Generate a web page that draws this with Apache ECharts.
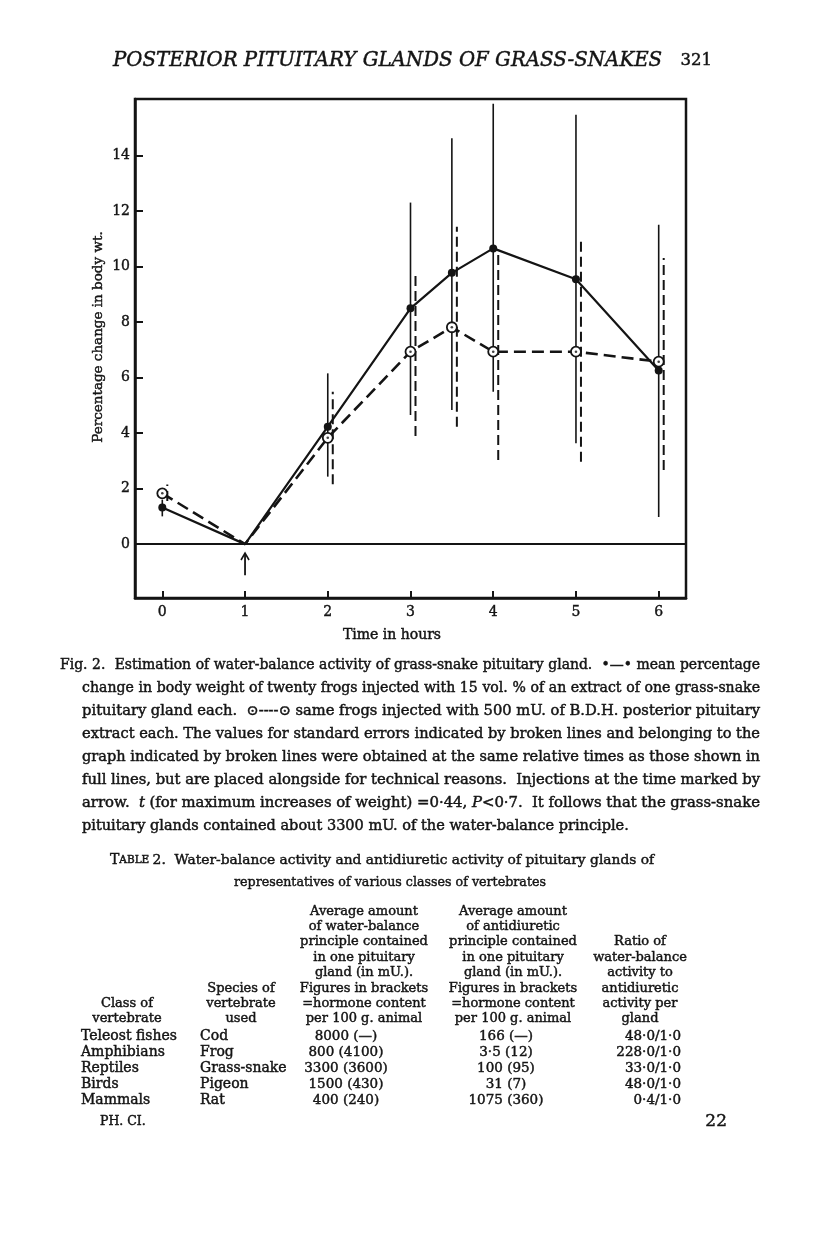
<!DOCTYPE html>
<html><head><meta charset="utf-8">
<script src="https://cdn.jsdelivr.net/npm/echarts@6/dist/echarts.min.js"></script>
<style>html,body{margin:0;padding:0;background:#fff}#c{width:816px;height:1234px}</style>
</head><body><div id="c"></div>
<script>
// ---------- DATA ----------
const hours = [0, 1, 2, 3, 3.5, 4, 5, 6];
const frogExtract = [1.32, 0, 4.23, 8.49, 9.77, 10.65, 9.54, 6.25];   // solid line, filled dots
const bdhPosterior = [1.83, 0, 3.83, 6.93, 7.81, 6.93, 6.93, 6.57];  // broken line, open circles
const errHours = [0, 2, 3, 3.5, 4, 5, 6];
const solidErrLow  = [1.0, 2.43, 4.65, 4.83, 5.49, 3.63, 0.98];
const solidErrHigh = [1.6, 6.15, 12.3, 14.62, 15.86, 15.46, 11.5];
const dashErrLow   = [1.55, 2.16, 3.89, 4.23, 3.03, 2.97, 2.67];
const dashErrHigh  = [2.15, 5.49, 9.81, 11.43, 10.6, 10.95, 10.3];
const injectionHour = 1;
const arrowBottom = -1.12, arrowTop = -0.32;
const xTicks = [0, 1, 2, 3, 4, 5, 6];
const yTicks = [0, 2, 4, 6, 8, 10, 12, 14];

const pageTitle = "POSTERIOR PITUITARY GLANDS OF GRASS-SNAKES";
const pageNumber = "321";
const xName = "Time in hours";
const yName = "Percentage change in body wt.";
const captionLines = [
  "Fig. 2.  Estimation of water-balance activity of grass-snake pituitary gland.  •—• mean percentage",
  "change in body weight of twenty frogs injected with 15 vol. % of an extract of one grass-snake",
  "pituitary gland each.  ⊙----⊙ same frogs injected with 500 mU. of B.D.H. posterior pituitary",
  "extract each. The values for standard errors indicated by broken lines and belonging to the",
  "graph indicated by broken lines were obtained at the same relative times as those shown in",
  "full lines, but are placed alongside for technical reasons.  Injections at the time marked by",
  "arrow.  *t* (for maximum increases of weight) =0·44, *P*<0·7.  It follows that the grass-snake",
  "pituitary glands contained about 3300 mU. of the water-balance principle."
];
const tableTitle1 = "Water-balance activity and antidiuretic activity of pituitary glands of";
const tableTitle2 = "representatives of various classes of vertebrates";
const colHeaders = [
  ["Class of", "vertebrate"],
  ["Species of", "vertebrate", "used"],
  ["Average amount", "of water-balance", "principle contained", "in one pituitary", "gland (in mU.).", "Figures in brackets", "=hormone content", "per 100 g. animal"],
  ["Average amount", "of antidiuretic", "principle contained", "in one pituitary", "gland (in mU.).", "Figures in brackets", "=hormone content", "per 100 g. animal"],
  ["Ratio of", "water-balance", "activity to", "antidiuretic", "activity per", "gland"]
];
const vertebrateClass = ["Teleost fishes", "Amphibians", "Reptiles", "Birds", "Mammals"];
const species = ["Cod", "Frog", "Grass-snake", "Pigeon", "Rat"];
const waterBalance = ["8000 (—)", "800 (4100)", "3300 (3600)", "1500 (430)", "400 (240)"];
const antidiuretic = ["166 (—)", "3·5 (12)", "100 (95)", "31 (7)", "1075 (360)"];
const ratio = ["48·0/1·0", "228·0/1·0", "33·0/1·0", "48·0/1·0", "0·4/1·0"];
const footLeft = "PH. CI.";
const footRight = "22";

// ---------- STYLE / LAYOUT ----------
const INK = '#141414';
const SERIF = '"DejaVu Serif", "Liberation Serif", serif';
const BOLDEN = 0.45;
const meas = document.createElement('canvas').getContext('2d');
function fnt(size, italic) { return (italic ? 'italic ' : '') + size + 'px ' + SERIF; }
function tw(t, f) { meas.font = f; return meas.measureText(t).width; }
function tstyle(text, size, italic, align) {
  return { text, font: fnt(size, italic), fill: INK, stroke: INK, lineWidth: BOLDEN,
    textAlign: align || 'left', textVerticalAlign: 'middle' };
}
const graphics = [];
function txt(x, y, text, size, align, extra) {
  graphics.push(Object.assign({ type: 'text', x, y, silent: true, style: tstyle(text, size, false, align) }, extra || {}));
}

// page header
graphics.push({ type: 'text', x: 113, y: 61, silent: true, style: tstyle(pageTitle, 19.8, true) });
txt(712, 61, pageNumber, 16.5, 'right');

// axis names
txt(392, 635, xName, 14, 'center');
graphics.push({ type: 'text', x: 98, y: 337, rotation: Math.PI / 2, silent: true,
  style: tstyle(yName, 13.5, false, 'center') });

// caption: words set at 14px, squeezed horizontally so each line is justified
const capX0 = [60, 82, 82, 82, 82, 82, 82, 82], capX1 = 760, capY0 = 665, capDY = 23, capSize = 14, capGap = 4.6;
function segsOf(word) {
  const parts = []; const re = /\*([^*]+)\*|([^*]+)/g; let m;
  while ((m = re.exec(word))) parts.push(m[1] ? { t: m[1], it: true } : { t: m[2], it: false });
  parts.forEach(p => p.w = tw(p.t, fnt(capSize, p.it)));
  return { parts, width: parts.reduce((s, p) => s + p.w, 0) };
}
const capLines = captionLines.map(l => l.split(' ').map(segsOf));
const scales = capLines.map((words, i) => {
  const total = words.reduce((s, g) => s + g.width, 0);
  return (capX1 - capX0[i] - (words.length - 1) * capGap) / total;
});
const avgScale = scales.slice(0, -1).reduce((a, b) => a + b, 0) / (scales.length - 1);
capLines.forEach((words, i) => {
  const last = i === capLines.length - 1;
  const k = last ? avgScale : scales[i];
  let x = capX0[i]; const y = capY0 + i * capDY;
  words.forEach(g => {
    let xx = x;
    g.parts.forEach(p => {
      graphics.push({ type: 'text', x: xx, y, scaleX: k, silent: true, style: tstyle(p.t, capSize, p.it) });
      xx += p.w * k;
    });
    x += g.width * k + capGap;
  });
});

// table title
graphics.push({ type: 'text', x: 110, y: 860, silent: true, style: {
  text: '{a|T}{b|ABLE} {c|2.  ' + tableTitle1 + '}', fill: INK, textVerticalAlign: 'middle',
  rich: { a: { font: fnt(14), fill: INK, stroke: INK, lineWidth: BOLDEN },
          b: { font: fnt(10.5), fill: INK, stroke: INK, lineWidth: BOLDEN },
          c: { font: fnt(13.8), fill: INK, stroke: INK, lineWidth: BOLDEN } } } });
const t2w = tw(tableTitle2, fnt(13.8));
txt(390, 882, tableTitle2, 13.8, 'center', { scaleX: 312 / t2w });

// table header (bottom aligned) and body
const headCenters = [127, 241, 364, 513, 640], headBottom = 1019, headDY = 15.4, tSize = 13;
colHeaders.forEach((lines, c) => {
  lines.forEach((l, k) => txt(headCenters[c], headBottom - (lines.length - 1 - k) * headDY, l, tSize, 'center'));
});
const rowY0 = 1036, rowDY = 16;
vertebrateClass.forEach((v, r) => {
  const y = rowY0 + r * rowDY;
  txt(81, y, v, 14, 'left');
  txt(200, y, species[r], 14, 'left');
  txt(346, y, waterBalance[r], 13.5, 'center');
  txt(506, y, antidiuretic[r], 13.5, 'center');
  txt(681, y, ratio[r], 13.5, 'right');
});
txt(100, 1122, footLeft, 12.5, 'left');
txt(727, 1122, footRight, 17, 'right');

// ---------- CHART ----------
const chart = echarts.init(document.getElementById('c'), null, { renderer: 'canvas' });
const lineData = (vals) => hours.map((h, i) => h === injectionHour ? { value: [h, vals[i]], symbol: 'none' } : [h, vals[i]]);
function errSeries(lo, hi, dx, dashed, w) {
  return {
    type: 'custom', coordinateSystem: 'cartesian2d', silent: true, z: 1,
    data: errHours.map((h, i) => [h, lo[i], hi[i]]),
    encode: { x: 0, y: [1, 2] },
    renderItem(params, api) {
      const a = api.coord([api.value(0), api.value(1)]);
      const b = api.coord([api.value(0), api.value(2)]);
      return { type: 'line', shape: { x1: a[0] + dx, y1: a[1], x2: b[0] + dx, y2: b[1] },
        style: { stroke: INK, lineWidth: w, lineDash: dashed ? [10, 5] : null } };
    }
  };
}
const axisFont = { fontFamily: SERIF, fontSize: 14, color: INK, textBorderColor: INK, textBorderWidth: 0.4 };
chart.setOption({
  animation: false,
  backgroundColor: '#fff',
  grid: { left: 135, top: 99, width: 551, height: 499, show: true, borderColor: INK, borderWidth: 2.5, backgroundColor: 'transparent' },
  xAxis: {
    type: 'value', min: -0.33, max: 6.33,
    axisLine: { show: true, onZero: false, lineStyle: { color: INK, width: 2.5 } },
    axisTick: { show: true, inside: true, length: 7, customValues: xTicks, lineStyle: { color: INK, width: 2 } },
    axisLabel: Object.assign({ customValues: xTicks, margin: 7 }, axisFont),
    splitLine: { show: false }
  },
  yAxis: {
    type: 'value', min: -1.94, max: 16.03,
    axisLine: { show: true, onZero: false, lineStyle: { color: INK, width: 2.5 } },
    axisTick: { show: true, inside: true, length: 8, customValues: yTicks, lineStyle: { color: INK, width: 2 } },
    axisLabel: Object.assign({ customValues: yTicks, margin: 5 }, axisFont),
    splitLine: { show: false }
  },
  series: [
    errSeries(solidErrLow, solidErrHigh, 0, false, 1.6),
    errSeries(dashErrLow, dashErrHigh, 5, true, 2),
    {
      type: 'line', data: lineData(frogExtract), z: 3,
      symbol: 'circle', symbolSize: 8,
      lineStyle: { color: INK, width: 2.2 }, itemStyle: { color: INK },
      markLine: { silent: true, symbol: ['none', 'none'], label: { show: false },
        lineStyle: { type: 'solid', color: INK, width: 1.8 }, data: [{ yAxis: 0 }] }
    },
    {
      type: 'line', data: lineData(bdhPosterior), z: 4,
      symbol: 'circle', symbolSize: 10,
      lineStyle: { color: INK, width: 2.6, type: [12, 6] },
      itemStyle: { color: '#fff', borderColor: INK, borderWidth: 1.8 }
    },
    {
      type: 'scatter', z: 5, symbol: 'circle', symbolSize: 2.6, itemStyle: { color: INK },
      data: hours.map((h, i) => [h, bdhPosterior[i]]).filter(d => d[0] !== injectionHour)
    },
    {
      type: 'custom', coordinateSystem: 'cartesian2d', silent: true, z: 5,
      data: [[injectionHour, arrowBottom, arrowTop]], encode: { x: 0, y: [1, 2] },
      renderItem(params, api) {
        const a = api.coord([api.value(0), api.value(1)]);
        const b = api.coord([api.value(0), api.value(2)]);
        return { type: 'group', children: [
          { type: 'line', shape: { x1: a[0], y1: a[1], x2: b[0], y2: b[1] }, style: { stroke: INK, lineWidth: 1.8 } },
          { type: 'polyline', shape: { points: [[b[0] - 4, b[1] + 7], [b[0], b[1]], [b[0] + 4, b[1] + 7]] }, style: { stroke: INK, lineWidth: 1.6, fill: null } }
        ] };
      }
    }
  ],
  graphic: { elements: graphics }
});
</script>
</body></html>
